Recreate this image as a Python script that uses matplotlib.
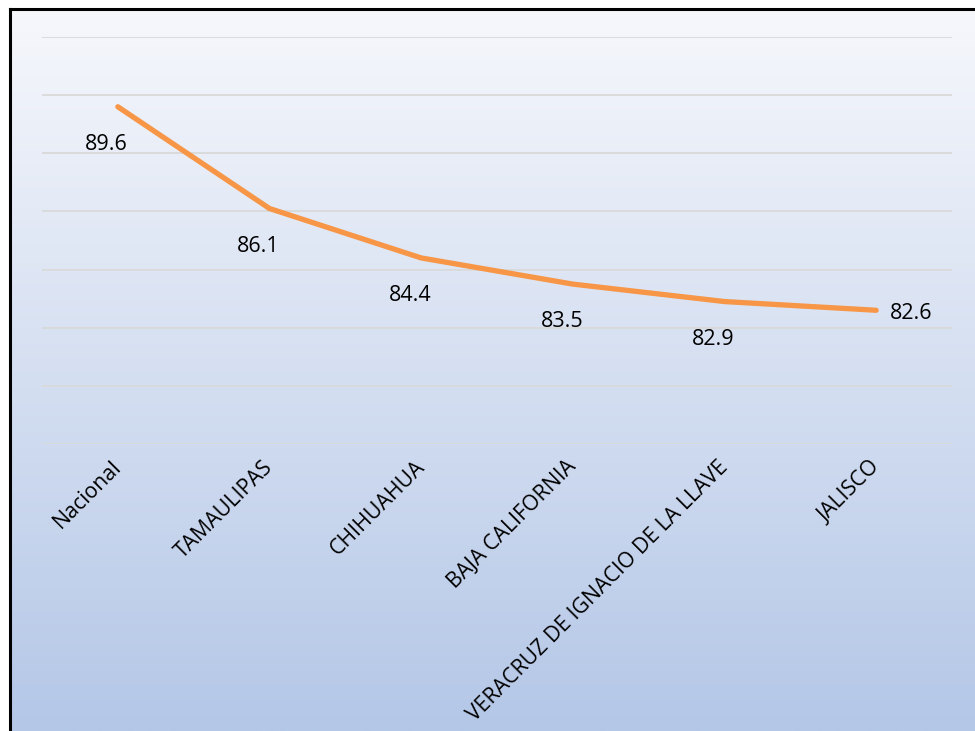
import numpy as np
import matplotlib.pyplot as plt
import matplotlib.transforms as mtransforms
from matplotlib.lines import Line2D

# =========================
# Datos
# =========================

estados = ["Nacional", "TAMAULIPAS", "CHIHUAHUA", "BAJA CALIFORNIA",
           "VERACRUZ DE IGNACIO DE LA LLAVE", "JALISCO"]
valores = [89.6, 86.1, 84.4, 83.5, 82.9, 82.6]
y_ticks = [78, 80, 82, 84, 86, 88, 90, 92]

color_linea = "#F79646"
fuente = "Open Sans"

# =========================
# Figura con fondo degradado
# =========================

fig = plt.figure(figsize=(9.75, 7.31), dpi=100)

bg = fig.add_axes([0, 0, 1, 1], zorder=-10)
top = np.array([247, 248, 252]) / 255
bottom = np.array([180, 199, 231]) / 255
t = np.linspace(0, 1, 256)[:, None]
grad = top * (1 - t) + bottom * t
bg.imshow(grad[:, None, :], aspect="auto", extent=[0, 1, 0, 1])
bg.set_xlim(0, 1)
bg.set_ylim(0, 1)
bg.axis("off")

# marco negro (arriba e izquierda)
fig.add_artist(Line2D([0.0103, 1.0], [0.9877, 0.9877], color="black", lw=2.2))
fig.add_artist(Line2D([0.0103, 0.0103], [0.0, 0.9877], color="black", lw=2.2))
# blanco fuera del marco
fig.patches.append(plt.Rectangle((0, 0.9895), 1, 0.02, transform=fig.transFigure,
                                 color="white", zorder=-5))
fig.patches.append(plt.Rectangle((0, 0), 0.0088, 1, transform=fig.transFigure,
                                 color="white", zorder=-5))

# =========================
# Grafico
# =========================

ax = fig.add_axes([0.0431, 0.3926, 0.9333, 0.5568])
ax.patch.set_alpha(0)

x = np.arange(len(estados))
ax.plot(x, valores, color=color_linea, lw=3.8, solid_capstyle="round", zorder=3)

for i, v in enumerate(valores):
    if i == len(valores) - 1:
        ax.annotate(f"{v}", (i, v), xytext=(10, -2), textcoords="offset points",
                    ha="left", va="center", fontsize=15.5, family=fuente)
    else:
        ax.annotate(f"{v}", (i, v), xytext=(-8, -27), textcoords="offset points",
                    ha="center", va="center", fontsize=15.5, family=fuente)

ax.set_xlim(-0.5, len(estados) - 0.5)
ax.set_ylim(78, 92)
ax.set_yticks(y_ticks)
ax.yaxis.grid(True, color="#D9D9D9", lw=1.3)
ax.set_axisbelow(True)
ax.tick_params(axis="y", left=False, labelleft=False)
ax.tick_params(axis="x", length=0, pad=9)
ax.set_xticks(x)
ax.set_xticklabels(estados, rotation=45, ha="right", rotation_mode="anchor",
                   fontsize=15.3, family=fuente)
desplaz = mtransforms.ScaledTranslation(-0.07, 0, fig.dpi_scale_trans)
for lbl in ax.get_xticklabels():
    lbl.set_transform(lbl.get_transform() + desplaz)
for s in ax.spines.values():
    s.set_visible(False)

fig.savefig("out.png", dpi=100)
